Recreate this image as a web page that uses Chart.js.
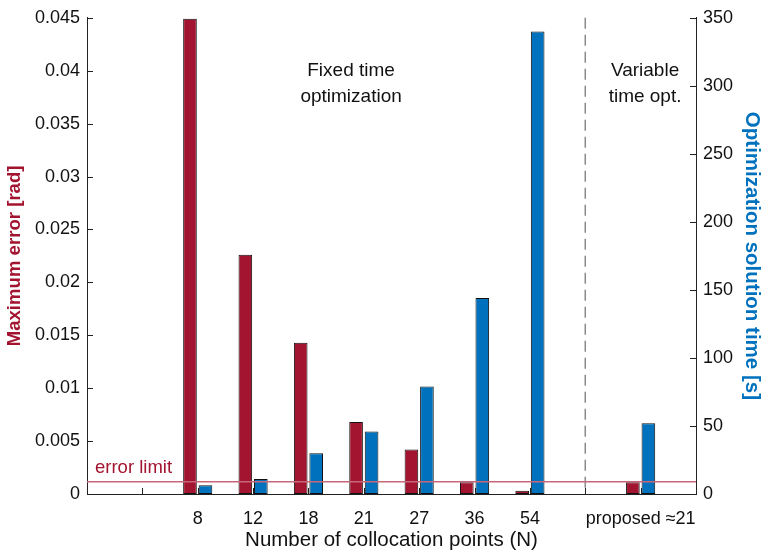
<!DOCTYPE html>
<html><head><meta charset="utf-8">
<script src="https://cdn.jsdelivr.net/npm/chart.js@4/dist/chart.umd.min.js"></script>
<style>html,body{margin:0;padding:0;background:#fff}#wrap{width:764px;height:555px}</style>
</head><body><div id="wrap"><canvas id="c" width="764" height="555"></canvas></div>
<script>
// Categories (first/last slots are empty padding positions of the axis)
const categories = ["", "", "8", "12", "18", "21", "27", "36", "54", "", "proposed \u224821", ""];
// Maximum error [rad]
const maxError = [null, 0, 0.0449, 0.0226, 0.0143, 0.0068, 0.0042, 0.0011, 0.0003, 0, 0.0011, null];
// Optimization solution time [s]
const solveTime = [null, 0, 6.5, 11, 30, 46, 79, 144, 340, 0, 52, null];
const errorLimit = 0.00115;
const errorTicks = [0, 0.005, 0.01, 0.015, 0.02, 0.025, 0.03, 0.035, 0.04, 0.045];
const timeTicks = [0, 50, 100, 150, 200, 250, 300, 350];
const separatorIndex = 9;

const RED = '#A2142F', BLUE = '#0072BD', AX = '#222';
const FONT = '"Liberation Sans", Arial, Helvetica, sans-serif';

const decor = {
  id: 'decor',
  beforeDatasetsDraw(chart) {
    const {ctx, chartArea: a, scales} = chart;
    ctx.save();
    const sx = scales.x.getPixelForValue(separatorIndex);
    ctx.strokeStyle = '#8a8a8a'; ctx.lineWidth = 1.5; ctx.setLineDash([11, 6]);
    ctx.beginPath(); ctx.moveTo(sx, a.top); ctx.lineTo(sx, a.bottom); ctx.stroke();
    ctx.setLineDash([]);
    ctx.restore();
  },
  afterDatasetsDraw(chart) {
    const {ctx, chartArea: a, scales} = chart;
    ctx.save();
    const ey = scales.y.getPixelForValue(errorLimit);
    ctx.strokeStyle = '#c9677a'; ctx.lineWidth = 1.5;
    ctx.beginPath(); ctx.moveTo(a.left, ey); ctx.lineTo(a.right, ey); ctx.stroke();
    ctx.fillStyle = RED; ctx.font = '18.5px ' + FONT; ctx.textAlign = 'left'; ctx.textBaseline = 'alphabetic';
    ctx.fillText('error limit', a.left + 8, ey - 9);
    ctx.strokeStyle = AX; ctx.lineWidth = 1;
    scales.y.ticks.forEach(t => { const y = Math.round(scales.y.getPixelForValue(t.value)) + 0.5;
      ctx.beginPath(); ctx.moveTo(a.left, y); ctx.lineTo(a.left + 6, y); ctx.stroke(); });
    scales.y2.ticks.forEach(t => { const y = Math.round(scales.y2.getPixelForValue(t.value)) + 0.5;
      ctx.beginPath(); ctx.moveTo(a.right, y); ctx.lineTo(a.right - 6, y); ctx.stroke(); });
    for (let i = 1; i < categories.length - 1; i++) {
      const x = Math.round(scales.x.getPixelForValue(i)) + 0.5;
      ctx.beginPath(); ctx.moveTo(x, a.bottom); ctx.lineTo(x, a.bottom - 6); ctx.stroke();
    }
    ctx.fillStyle = '#111'; ctx.font = '19px ' + FONT; ctx.textAlign = 'center'; ctx.textBaseline = 'middle';
    const fx = scales.x.getPixelForValue(4.77), vx = scales.x.getPixelForValue(10.08);
    const l1 = scales.y.getPixelForValue(0.0400), l2 = scales.y.getPixelForValue(0.0375);
    ctx.fillText('Fixed time', fx, l1); ctx.fillText('optimization', fx, l2);
    ctx.fillText('Variable', vx, l1); ctx.fillText('time opt.', vx, l2);
    ctx.restore();
  }
};

new Chart(document.getElementById('c'), {
  type: 'bar',
  data: {
    labels: categories,
    datasets: [
      { label: 'Maximum error', data: maxError, yAxisID: 'y', backgroundColor: RED, borderColor: '#111', borderWidth: 1, borderSkipped: false, categoryPercentage: 0.56, barPercentage: 0.88 },
      { label: 'Solution time', data: solveTime, yAxisID: 'y2', backgroundColor: BLUE, borderColor: '#111', borderWidth: 1, borderSkipped: false, categoryPercentage: 0.56, barPercentage: 0.88 }
    ]
  },
  options: {
    responsive: false, animation: false,
    layout: { padding: { top: 15, left: 0, right: 0, bottom: 0 } },
    plugins: { legend: { display: false }, tooltip: { enabled: false } },
    scales: {
      x: {
        type: 'category', offset: false,
        grid: { display: false, drawTicks: false },
        border: { display: true, color: AX, width: 1 },
        ticks: { autoSkip: false, maxRotation: 0, minRotation: 0, padding: 14, color: '#111', font: { size: 18, family: FONT } },
        title: { display: true, text: 'Number of collocation points (N)', color: '#111', font: { size: 20.5, family: FONT }, padding: { top: 0, bottom: 2 } },
        afterFit: s => { s.height = 61; }
      },
      y: {
        position: 'left', min: 0, max: 0.045,
        afterBuildTicks: s => { s.ticks = errorTicks.map(v => ({ value: v })); },
        grid: { display: false, drawTicks: false },
        border: { display: true, color: AX, width: 1 },
        ticks: { padding: 7, color: '#111', font: { size: 18, family: FONT }, callback: v => String(Number(v.toFixed(3))) },
        title: { display: true, text: 'Maximum error [rad]', color: RED, font: { size: 18.6, weight: 'bold', family: FONT }, padding: { top: 4, bottom: 0 } },
        afterFit: s => { s.width = 87; }
      },
      y2: {
        position: 'right', min: 0, max: 350,
        afterBuildTicks: s => { s.ticks = timeTicks.map(v => ({ value: v })); },
        grid: { display: false, drawTicks: false },
        border: { display: true, color: AX, width: 1 },
        ticks: { padding: 7, color: '#111', font: { size: 18, family: FONT } },
        title: { display: true, text: 'Optimization solution time [s]', color: BLUE, font: { size: 20.5, weight: 'bold', family: FONT }, padding: { top: 0, bottom: 0 } },
        afterFit: s => { s.width = 68; }
      }
    }
  },
  plugins: [decor]
});
</script></body></html>
